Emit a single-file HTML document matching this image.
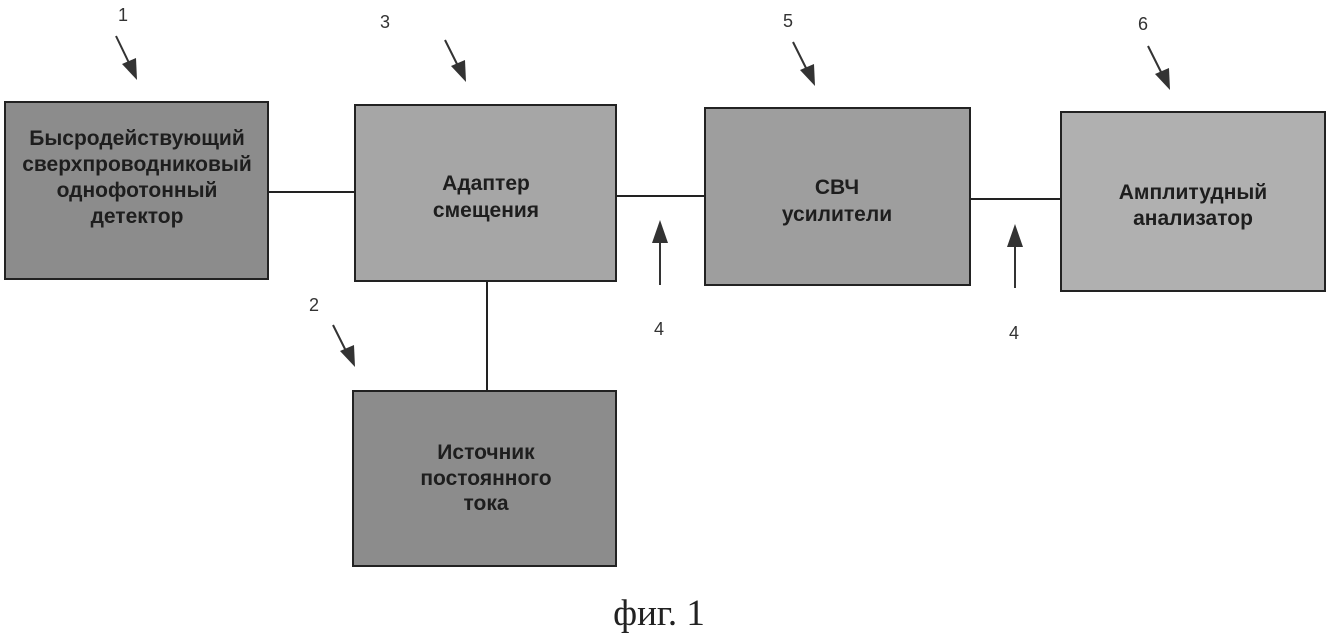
<!DOCTYPE html>
<html><head><meta charset="utf-8"><style>
html,body{margin:0;padding:0;background:#fff;width:1330px;height:638px;overflow:hidden}
svg{display:block}
.b{font-family:"Liberation Sans",sans-serif;font-weight:bold;font-size:21px;fill:#1e1e1e;text-anchor:middle}
.n{font-family:"Liberation Sans",sans-serif;font-size:18px;fill:#333;text-anchor:middle}
</style></head><body>
<svg width="1330" height="638" viewBox="0 0 1330 638">
<g stroke="#222" stroke-width="2">
<line x1="268" y1="192" x2="355" y2="192"/>
<line x1="616" y1="196" x2="705" y2="196"/>
<line x1="970" y1="199" x2="1061" y2="199"/>
<line x1="487" y1="281" x2="487" y2="391"/>
</g>
<g stroke="#222" stroke-width="2">
<rect x="5" y="102" width="263" height="177" fill="#8c8c8c"/>
<rect x="355" y="105" width="261" height="176" fill="#a6a6a6"/>
<rect x="705" y="108" width="265" height="177" fill="#9e9e9e"/>
<rect x="1061" y="112" width="264" height="179" fill="#b0b0b0"/>
<rect x="353" y="391" width="263" height="175" fill="#8c8c8c"/>
</g>
<text class="b" x="137" y="145">Быcродействующий</text>
<text class="b" x="137" y="171">сверхпроводниковый</text>
<text class="b" x="137" y="197">однофотонный</text>
<text class="b" x="137" y="223">детектор</text>
<text class="b" x="486" y="190">Адаптер</text>
<text class="b" x="486" y="217">смещения</text>
<text class="b" x="837" y="194">СВЧ</text>
<text class="b" x="837" y="221">усилители</text>
<text class="b" x="1193" y="199">Амплитудный</text>
<text class="b" x="1193" y="225">анализатор</text>
<text class="b" x="486" y="459">Источник</text>
<text class="b" x="486" y="485">постоянного</text>
<text class="b" x="486" y="510">тока</text>
<g stroke="#333" stroke-width="2" fill="none">
<line x1="116" y1="36" x2="130" y2="65"/>
<line x1="445" y1="40" x2="458" y2="66"/>
<line x1="793" y1="42" x2="807" y2="70"/>
<line x1="1148" y1="46" x2="1162" y2="74"/>
<line x1="333" y1="325" x2="346" y2="351"/>
<line x1="660" y1="285" x2="660" y2="240"/>
<line x1="1015" y1="288" x2="1015" y2="244"/>
</g>
<g fill="#333">
<polygon points="137,80 122,64 136,58"/>
<polygon points="466,82 451,66 465,60"/>
<polygon points="815,86 800,70 814,64"/>
<polygon points="1170,90 1155,74 1169,68"/>
<polygon points="355,367 340,351 354,345"/>
<polygon points="660,220 652,243 668,243"/>
<polygon points="1015,224 1007,247 1023,247"/>
</g>
<text class="n" x="123" y="21">1</text>
<text class="n" x="385" y="28">3</text>
<text class="n" x="788" y="27">5</text>
<text class="n" x="1143" y="30">6</text>
<text class="n" x="314" y="311">2</text>
<text class="n" x="659" y="335">4</text>
<text class="n" x="1014" y="339">4</text>
<text x="659" y="625" font-family="'Liberation Serif',serif" font-size="37" fill="#222" text-anchor="middle">фиг. 1</text>
</svg>
</body></html>
